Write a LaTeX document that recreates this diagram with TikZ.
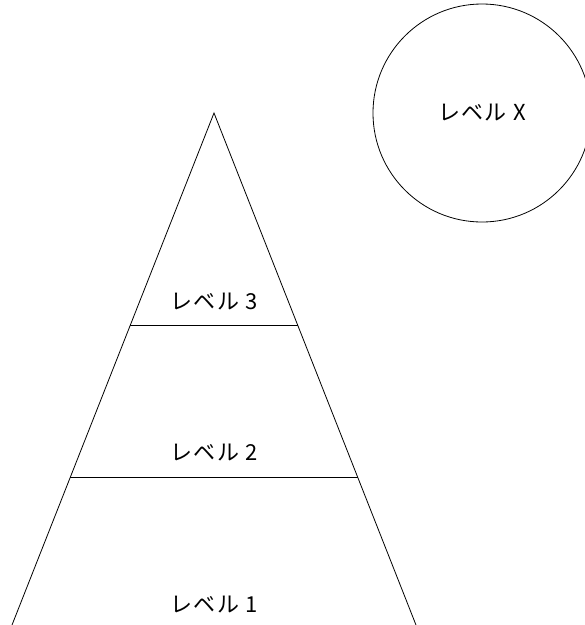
\documentclass[tikz,border=0pt]{standalone}
\usepackage{fontspec}
\setmainfont{Noto Sans CJK JP}
\newfontfamily\levelfont[LetterSpace=6]{Noto Sans CJK JP}
\usepackage{tikz}
\usetikzlibrary{positioning, calc}

\begin{document}
\begin{tikzpicture}[
    x=1pt, y=-1pt,
    line width=0.8pt,
    levelname/.style={font=\levelfont\fontsize{22}{26}\selectfont, inner sep=0pt}
]
\useasboundingbox (0,0) rectangle (585,625);

% Pyramid
\coordinate (apex) at (214,113);
\coordinate (bl) at (12,625);
\coordinate (br) at (416,625);
\draw (bl) -- (apex) -- (br);

% Dividers
\draw ($(apex)!0.414!(bl)$) -- ($(apex)!0.414!(br)$);
\draw ($(apex)!0.711!(bl)$) -- ($(apex)!0.711!(br)$);

% Labels
\node[levelname] (lvthree) at (214,302) {レベル 3};
\node[levelname] (lvtwo) at (214,453) {レベル 2};
\node[levelname] (lvone) at (214,605) {レベル 1};

% Outside level
\node[draw, circle, minimum size=218pt, inner sep=0pt] (lvx) at (482,113) {};
\node[levelname] at (lvx.center) {レベル X};

\end{tikzpicture}
\end{document}
